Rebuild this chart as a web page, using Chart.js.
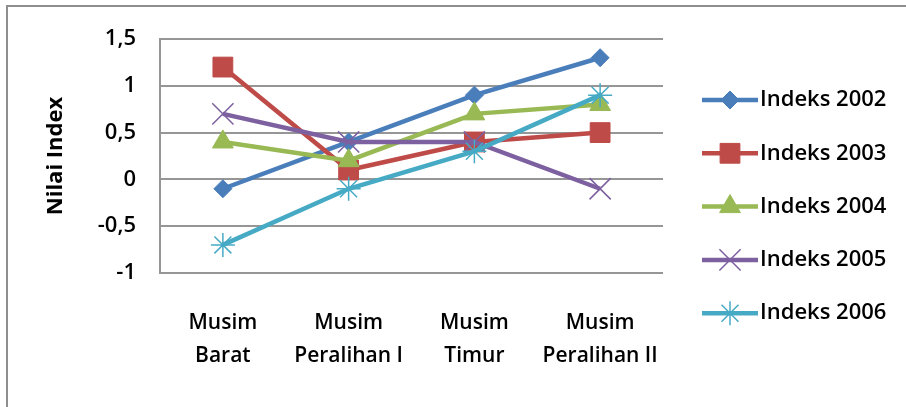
<!DOCTYPE html>
<html>
<head>
<meta charset="utf-8">
<script src="https://cdn.jsdelivr.net/npm/chart.js@4.4.1/dist/chart.umd.min.js"></script>
<style>
  html, body { margin: 0; padding: 0; background: #ffffff; }
  #wrap { width: 906px; height: 407px; position: relative; }
</style>
</head>
<body>
<div id="wrap"><canvas id="c" width="906" height="407"></canvas></div>
<script>
// Seasons on the horizontal axis (two-line labels)
const seasons = [
  ['Musim', 'Barat'],
  ['Musim', 'Peralihan I'],
  ['Musim', 'Timur'],
  ['Musim', 'Peralihan II']
];

// Index value per season, one array per year
const indeks2002 = [-0.1, 0.4, 0.9, 1.3];
const indeks2003 = [1.2, 0.1, 0.4, 0.5];
const indeks2004 = [0.4, 0.2, 0.7, 0.8];
const indeks2005 = [0.7, 0.4, 0.4, -0.1];
const indeks2006 = [-0.7, -0.1, 0.3, 0.9];

const seriesNames = ['Indeks 2002', 'Indeks 2003', 'Indeks 2004', 'Indeks 2005', 'Indeks 2006'];
const yTicks = [-1, -0.5, 0, 0.5, 1, 1.5];

const FONT = '"Open Sans", Lato, sans-serif';
const GRID = '#969696';

const styles = [
  { color: '#4A7EBB', point: 'rectRot',  radius: 9,  pbw: 1 },
  { color: '#BE4B48', point: 'rect',     radius: 14, pbw: 1 },
  { color: '#98B954', point: 'triangle', radius: 12, pbw: 1 },
  { color: '#7D60A0', point: 'crossRot', radius: 15, pbw: 1.5 },
  { color: '#46AAC5', point: 'star',     radius: 12, pbw: 1.5 }
];
const values = [indeks2002, indeks2003, indeks2004, indeks2005, indeks2006];

const datasets = values.map((v, i) => ({
  label: seriesNames[i],
  data: v,
  borderColor: styles[i].color,
  backgroundColor: styles[i].color,
  borderWidth: 4.5,
  pointStyle: styles[i].point,
  pointRadius: styles[i].radius,
  pointHoverRadius: styles[i].radius,
  pointBorderWidth: styles[i].pbw,
  pointBorderColor: styles[i].color,
  pointBackgroundColor: styles[i].color,
  tension: 0,
  order: values.length - i
}));

// Outer frame of the chart object
const framePlugin = {
  id: 'frame',
  beforeDraw(chart) {
    const ctx = chart.ctx;
    ctx.save();
    ctx.fillStyle = '#ffffff';
    ctx.fillRect(0, 0, chart.width, chart.height);
    ctx.strokeStyle = '#8f8f8f';
    ctx.lineWidth = 2;
    ctx.strokeRect(7, 6, chart.width + 20, chart.height + 20);
    ctx.restore();
  }
};

// Legend on the right: line sample with its marker, then the series name
const sideLegend = {
  id: 'sideLegend',
  afterDraw(chart) {
    const ctx = chart.ctx;
    ctx.save();
    chart.data.datasets.forEach((ds, i) => {
      const y = 100 + i * 53.3;
      ctx.strokeStyle = ds.borderColor;
      ctx.lineWidth = 4.5;
      ctx.beginPath();
      ctx.moveTo(702, y);
      ctx.lineTo(758, y);
      ctx.stroke();
      ctx.fillStyle = ds.pointBackgroundColor;
      ctx.strokeStyle = ds.pointBorderColor;
      ctx.lineWidth = ds.pointBorderWidth;
      Chart.helpers.drawPoint(ctx, {
        pointStyle: ds.pointStyle,
        radius: ds.pointRadius,
        borderWidth: ds.pointBorderWidth,
        rotation: 0
      }, 730, y);
      ctx.fillStyle = '#000000';
      ctx.font = '600 22px ' + FONT;
      ctx.textAlign = 'left';
      ctx.textBaseline = 'middle';
      ctx.fillText(ds.label, 760, y);
    });
    ctx.restore();
  }
};

new Chart(document.getElementById('c'), {
  type: 'line',
  data: { labels: seasons, datasets },
  plugins: [framePlugin, sideLegend],
  options: {
    responsive: false,
    devicePixelRatio: 1,
    animation: false,
    layout: { padding: { left: 10, right: 243, top: 39, bottom: 0 } },
    plugins: { legend: { display: false }, tooltip: { enabled: false } },
    scales: {
      x: {
        offset: true,
        grid: { display: false, drawTicks: false },
        border: { display: false },
        ticks: {
          color: '#000000',
          padding: 34,
          maxRotation: 0,
          autoSkip: false,
          font: { family: FONT, size: 21, weight: '600', lineHeight: 1.55 }
        },
        afterFit(scale) { scale.height = 134; }
      },
      y: {
        min: -1,
        max: 1.5,
        afterBuildTicks(scale) { scale.ticks = yTicks.map(v => ({ value: v })); },
        grid: { color: GRID, lineWidth: 2, drawTicks: false },
        border: { color: GRID, width: 2 },
        ticks: {
          color: '#000000',
          padding: 24,
          font: { family: FONT, size: 22, weight: '600' },
          callback: v => String(v).replace('.', ',')
        },
        title: {
          display: true,
          text: 'Nilai Index',
          color: '#000000',
          font: { family: FONT, size: 22, weight: 'bold' },
          padding: { top: 33, bottom: 0 }
        },
        afterFit(scale) { scale.width = 150; }
      }
    }
  }
});
</script>
</body>
</html>
